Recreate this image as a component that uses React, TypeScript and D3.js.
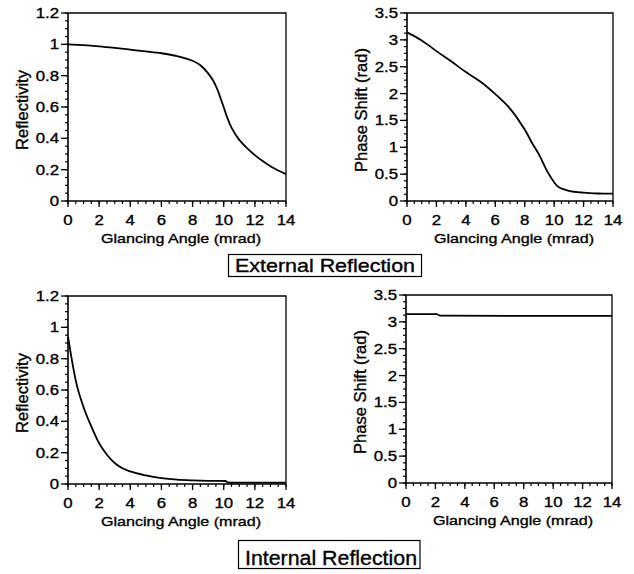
import React from "react";
import * as d3 from "d3";

const WIDTH = 634;
const HEIGHT = 574;
const FONT = "'Liberation Sans', Arial, Helvetica, sans-serif";

// external reflection: reflectivity vs glancing angle
const extReflAngle = [0, 1, 2, 3, 4, 5, 6, 7, 8, 8.5, 9, 9.3, 9.6, 9.8, 10, 10.2, 10.5, 11, 11.5, 12, 12.5, 13, 13.5, 14];
const extReflValue = [1.0, 0.995, 0.987, 0.977, 0.966, 0.955, 0.943, 0.925, 0.895, 0.866, 0.815, 0.772, 0.71, 0.655, 0.598, 0.54, 0.468, 0.39, 0.338, 0.293, 0.255, 0.222, 0.195, 0.172];

// external reflection: phase shift
const extPhaseAngle = [0, 1, 2, 3, 4, 5, 6, 7, 8, 8.5, 9, 9.5, 10, 10.3, 11, 12, 13, 14];
const extPhaseValue = [3.14, 2.99, 2.79, 2.6, 2.4, 2.22, 1.99, 1.72, 1.33, 1.08, 0.85, 0.57, 0.35, 0.26, 0.19, 0.155, 0.14, 0.136];

// internal reflection: reflectivity
const intReflAngle = [0, 0.2, 0.5, 1, 1.5, 2, 2.5, 3, 3.5, 4, 5, 6, 7, 8, 9, 10.1, 10.3, 12, 14];
const intReflValue = [0.94, 0.82, 0.66, 0.49, 0.367, 0.26, 0.187, 0.134, 0.1, 0.08, 0.055, 0.038, 0.028, 0.023, 0.02, 0.019, 0.009, 0.009, 0.009];

// internal reflection: phase shift
const intPhaseAngle = [0, 2.1, 2.3, 14];
const intPhaseValue = [3.145, 3.145, 3.115, 3.11];

const xTicks = [0, 2, 4, 6, 8, 10, 12, 14];
const reflTicks = [0, 0.2, 0.4, 0.6, 0.8, 1, 1.2];
const phaseTicks = [0, 0.5, 1, 1.5, 2, 2.5, 3, 3.5];

// scanned-print look: text a touch heavier than the plain font
const ink = { fill: "#000", stroke: "#000", strokeWidth: 0.35 };

type PanelProps = {
  left: number;
  right: number;
  top: number;
  bottom: number;
  yMax: number;
  yTicks: number[];
  yMinor: number;
  yLabel: string;
  xs: number[];
  ys: number[];
  curve: d3.CurveFactory;
};

function Panel(p: PanelProps) {
  const x = d3.scaleLinear().domain([0, 14]).range([p.left, p.right]);
  const y = d3.scaleLinear().domain([0, p.yMax]).range([p.bottom, p.top]);
  const line = d3
    .line<number>()
    .x((d, i) => x(p.xs[i]))
    .y((d) => y(d))
    .curve(p.curve);

  const xMinor = d3.range(0, 14.001, 0.5);
  const yMinor = d3.range(0, p.yMax + 1e-6, p.yMinor);
  const midX = (p.left + p.right) / 2;
  const midY = (p.top + p.bottom) / 2;

  return (
    <g>
      {/* frame */}
      <path
        d={`M${p.left},${p.top}H${p.right}V${p.bottom}`}
        fill="none"
        stroke="#000"
        strokeWidth={1.3}
      />
      <path
        d={`M${p.left},${p.top}V${p.bottom}H${p.right}`}
        fill="none"
        stroke="#000"
        strokeWidth={1.6}
      />

      {/* x ticks */}
      {xMinor.map((v) => (
        <line key={"xm" + v} x1={x(v)} x2={x(v)} y1={p.bottom} y2={p.bottom + 3} stroke="#000" strokeWidth={1.2} />
      ))}
      {xTicks.map((v) => (
        <g key={"x" + v}>
          <line x1={x(v)} x2={x(v)} y1={p.bottom} y2={p.bottom + 6} stroke="#000" strokeWidth={1.3} />
          <text
            transform={`translate(${x(v)},${p.bottom + 23.5}) scale(1.2,1)`}
            textAnchor="middle"
            fontSize={14}
            {...ink}
          >
            {v}
          </text>
        </g>
      ))}

      {/* y ticks */}
      {yMinor.map((v) => (
        <line key={"ym" + v} x1={p.left - 3} x2={p.left} y1={y(v)} y2={y(v)} stroke="#000" strokeWidth={1.2} />
      ))}
      {p.yTicks.map((v) => (
        <g key={"y" + v}>
          <line x1={p.left - 7} x2={p.left} y1={y(v)} y2={y(v)} stroke="#000" strokeWidth={1.3} />
          <text
            transform={`translate(${p.left - 9},${y(v) + 5}) scale(1.2,1)`}
            textAnchor="end"
            fontSize={14}
            {...ink}
          >
            {v}
          </text>
        </g>
      ))}

      {/* axis titles */}
      <text
        x={midX + 4}
        y={p.bottom + 42}
        textAnchor="middle"
        fontSize={13.5}
        textLength={160}
        lengthAdjust="spacingAndGlyphs"
        {...ink}
      >
        Glancing Angle (mrad)
      </text>
      <text
        transform={`translate(${p.left - 40},${midY + 3}) rotate(-90)`}
        textAnchor="middle"
        fontSize={16.5}
        {...ink}
      >
        {p.yLabel}
      </text>

      <path d={line(p.ys) || ""} fill="none" stroke="#000" strokeWidth={1.8} />
    </g>
  );
}

export default function App() {
  return (
    <svg
      width={WIDTH}
      height={HEIGHT}
      style={{ position: "absolute", left: 0, top: 0, background: "#fff" }}
      fontFamily={FONT}
    >
      <Panel
        left={68}
        right={286}
        top={13}
        bottom={201}
        yMax={1.2}
        yTicks={reflTicks}
        yMinor={0.05}
        yLabel="Reflectivity"
        xs={extReflAngle}
        ys={extReflValue}
        curve={d3.curveCatmullRom.alpha(0.5)}
      />
      <Panel
        left={407}
        right={613}
        top={13}
        bottom={201}
        yMax={3.5}
        yTicks={phaseTicks}
        yMinor={0.125}
        yLabel="Phase Shift (rad)"
        xs={extPhaseAngle}
        ys={extPhaseValue}
        curve={d3.curveCatmullRom.alpha(0.5)}
      />
      <Panel
        left={68}
        right={286}
        top={296}
        bottom={484}
        yMax={1.2}
        yTicks={reflTicks}
        yMinor={0.05}
        yLabel="Reflectivity"
        xs={intReflAngle}
        ys={intReflValue}
        curve={d3.curveMonotoneX}
      />
      <Panel
        left={406}
        right={612}
        top={295}
        bottom={483}
        yMax={3.5}
        yTicks={phaseTicks}
        yMinor={0.125}
        yLabel="Phase Shift (rad)"
        xs={intPhaseAngle}
        ys={intPhaseValue}
        curve={d3.curveLinear}
      />

      {/* section captions */}
      <rect x={228.5} y={254.5} width={193} height={22} fill="none" stroke="#000" strokeWidth={1.2} />
      <text
        x={325}
        y={271.5}
        textAnchor="middle"
        fontSize={18.5}
        textLength={180}
        lengthAdjust="spacingAndGlyphs"
        {...ink}
      >
        External Reflection
      </text>
      <rect x={238.5} y={540.5} width={181.5} height={28} fill="none" stroke="#000" strokeWidth={1.2} />
      <text
        x={331}
        y={565}
        textAnchor="middle"
        fontSize={21}
        textLength={172}
        lengthAdjust="spacingAndGlyphs"
        {...ink}
      >
        Internal Reflection
      </text>
    </svg>
  );
}
